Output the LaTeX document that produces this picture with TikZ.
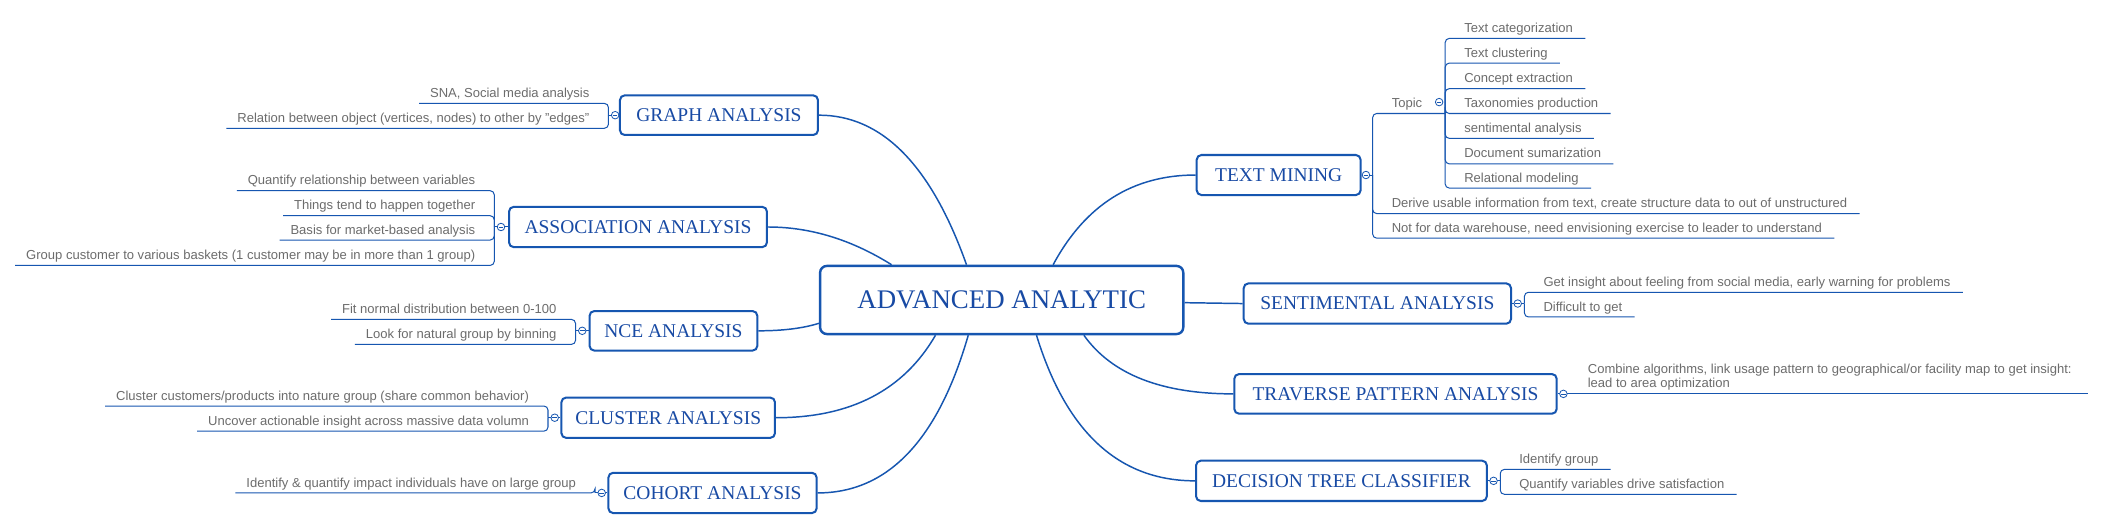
\documentclass[tikz,border=0pt]{standalone}
\usepackage{fontspec}
\setmainfont{Liberation Serif}
\setsansfont{Liberation Sans}
\usetikzlibrary{calc}
\definecolor{xblue}{RGB}{22,86,176}
\definecolor{tblue}{RGB}{24,74,164}
\definecolor{sgray}{RGB}{108,108,108}
\newcommand\mmLeft[5]{%
  \node[subtext, anchor=base east] (#1) at ({#2-14},{#4-4.4}) {#5};
  \draw[sline] ([shift={(-8,4.4)}]#1.base west) -- (#2,#4) -- (#2,#3);
}
\newcommand\mmRight[5]{%
  \node[subtext, anchor=base west] (#1) at ({#2+14},{#4-4.4}) {#5};
  \draw[sline] (#2,#3) -- (#2,#4) -- ([shift={(9,4.4)}]#1.base east);
}
\begin{document}
\begin{tikzpicture}[x=1pt,y=-1pt,
  topicbox/.style={draw=xblue, line width=1.5pt, rounded corners=3.5pt, fill=white,
    text=tblue, font=\fontsize{14.5}{16}\selectfont, inner sep=0pt},
  rootbox/.style={topicbox, line width=1.8pt, rounded corners=5pt, font=\fontsize{20}{22}\selectfont},
  subtext/.style={text=sgray, font=\sffamily\fontsize{9.7}{10.9}\selectfont, inner sep=0pt},
  link/.style={draw=xblue, line width=1.1pt},
  sline/.style={draw=xblue, line width=0.75pt, rounded corners=3pt},
  knob/.style={circle, draw=xblue, fill=white, line width=0.6pt, minimum size=5.6pt, inner sep=0pt,
    path picture={\draw[xblue, line width=0.5pt] ([xshift=-1.7pt]path picture bounding box.center) -- ([xshift=1.7pt]path picture bounding box.center);}}
]
\useasboundingbox[fill=white] (0,0) rectangle (1568,394.6);

% ---------- central and main topics ----------
\node[rootbox, minimum width=270.4pt, minimum height=50.7pt] (central) at (745.8,223.35) {ADVANCED ANALYTIC};

\node[topicbox, minimum width=147.4pt, minimum height=29.5pt] (graph)   at (535.3,85.75) {GRAPH ANALYSIS};
\node[topicbox, minimum width=192pt,   minimum height=30pt]   (assoc)   at (475,169)     {ASSOCIATION ANALYSIS};
\node[topicbox, minimum width=124.9pt, minimum height=29.4pt] (nce)     at (501.4,246.3) {NCE ANALYSIS};
\node[topicbox, minimum width=159pt,   minimum height=30pt]   (cluster) at (497.5,311)   {CLUSTER ANALYSIS};
\node[topicbox, minimum width=155pt,   minimum height=30pt]   (cohort)  at (530.5,367)   {COHORT ANALYSIS};

\node[topicbox, minimum width=122pt,   minimum height=29.8pt] (tmining)  at (952,130.3)   {TEXT MINING};
\node[topicbox, minimum width=199pt,   minimum height=30pt]   (sent)     at (1025.5,226)  {SENTIMENTAL ANALYSIS};
\node[topicbox, minimum width=240pt,   minimum height=29.5pt] (traverse) at (1039,293.25) {TRAVERSE PATTERN ANALYSIS};
\node[topicbox, minimum width=216.5pt, minimum height=30pt]   (decision) at (998.75,358)  {DECISION TREE CLASSIFIER};

% ---------- connectors from the central topic ----------
\coordinate (sG) at ([xshift=109.9pt]central.north west);
\coordinate (sT) at ([xshift=174.4pt]central.north west);
\coordinate (sA) at ([xshift=54.1pt]central.north west);
\coordinate (sK) at ([xshift=86.8pt]central.south west);
\coordinate (sH) at ([xshift=111.2pt]central.south west);
\coordinate (sD) at ([xshift=162pt]central.south west);
\coordinate (sP) at ([xshift=197.3pt]central.south west);
\coordinate (sN) at ([yshift=-17.35pt]central.west);
\coordinate (sS) at ([yshift=-2pt]central.east);

\coordinate (kG) at (680,85.75);
\coordinate (kT) at (820,130.3);
\coordinate (kA) at (619,169);
\coordinate (kN) at (592,246.3);
\coordinate (kK) at (661,311);
\coordinate (kH) at (687,367);
\coordinate (kD) at (805,358);
\coordinate (kP) at (838,293.25);

\draw[link] (sG) .. controls ($(sG)!0.667!(kG)$) and ($(graph.east)!0.667!(kG)$) .. (graph.east);
\draw[link] (sT) .. controls ($(sT)!0.667!(kT)$) and ($(tmining.west)!0.667!(kT)$) .. (tmining.west);
\draw[link] (sA) .. controls ($(sA)!0.667!(kA)$) and ($(assoc.east)!0.667!(kA)$) .. (assoc.east);
\draw[link] (sN) .. controls ($(sN)!0.667!(kN)$) and ($(nce.east)!0.667!(kN)$) .. (nce.east);
\draw[link] (sK) .. controls ($(sK)!0.667!(kK)$) and ($(cluster.east)!0.667!(kK)$) .. (cluster.east);
\draw[link] (sH) .. controls ($(sH)!0.667!(kH)$) and ($(cohort.east)!0.667!(kH)$) .. (cohort.east);
\draw[link] (sD) .. controls ($(sD)!0.667!(kD)$) and ($(decision.west)!0.667!(kD)$) .. (decision.west);
\draw[link] (sP) .. controls ($(sP)!0.667!(kP)$) and ($(traverse.west)!0.667!(kP)$) .. (traverse.west);
\draw[link] (sS) -- (sent.west);

% ---------- GRAPH ANALYSIS ----------
\mmLeft{g1}{453}{85.75}{77}{SNA, Social media analysis}
\mmLeft{g2}{453}{85.75}{95.5}{Relation between object (vertices, nodes) to other by "edges"}
\draw[sline] (453,85.75) -- (graph.west);

% ---------- ASSOCIATION ANALYSIS ----------
\mmLeft{a1}{368}{169}{142}{Quantify relationship between variables}
\mmLeft{a2}{368}{169}{160.6}{Things tend to happen together}
\mmLeft{a3}{368}{169}{178.7}{Basis for market-based analysis}
\mmLeft{a4}{368}{169}{197.6}{Group customer to various baskets (1 customer may be in more than 1 group)}
\draw[sline] (368,169) -- (assoc.west);

% ---------- NCE ANALYSIS ----------
\mmLeft{n1}{428.5}{246.3}{237.8}{Fit normal distribution between 0-100}
\mmLeft{n2}{428.5}{246.3}{256.4}{Look for natural group by binning}
\draw[sline] (428.5,246.3) -- (nce.west);

% ---------- CLUSTER ANALYSIS ----------
\mmLeft{k1}{408}{311}{302.3}{Cluster customers/products into nature group (share common behavior)}
\mmLeft{k2}{408}{311}{321}{Uncover actionable insight across massive data volumn}
\draw[sline] (408,311) -- (cluster.west);

% ---------- COHORT ANALYSIS ----------
\mmLeft{h1}{443}{367}{367}{Identify \& quantify impact individuals have on large group}
\draw[sline] (443,367) -- (cohort.west);

% ---------- TEXT MINING ----------
\node[subtext, anchor=base west] (tp) at (1036,80.1) {Topic};
\draw[sline] (1022,130.3) -- (1022,84.5) -- (1076,84.5);
\mmRight{t2}{1022}{130.3}{159}{Derive usable information from text, create structure data to out of unstructured}
\mmRight{t3}{1022}{130.3}{177.3}{Not for data warehouse, need envisioning exercise to leader to understand}
\draw[sline] (tmining.east) -- (1022,130.3);

\mmRight{p1}{1076}{84.5}{28.6}{Text categorization}
\mmRight{p2}{1076}{84.5}{47}{Text clustering}
\mmRight{p3}{1076}{84.5}{66}{Concept extraction}
\mmRight{p4}{1076}{84.5}{84.5}{Taxonomies production}
\mmRight{p5}{1076}{84.5}{103}{sentimental analysis}
\mmRight{p6}{1076}{84.5}{122}{Document sumarization}
\mmRight{p7}{1076}{84.5}{140}{Relational modeling}

% ---------- SENTIMENTAL ANALYSIS ----------
\mmRight{s1}{1135}{226}{217.6}{Get insight about feeling from social media, early warning for problems}
\mmRight{s2}{1135}{226}{236}{Difficult to get}
\draw[sline] (sent.east) -- (1135,226);

% ---------- TRAVERSE PATTERN ANALYSIS ----------
\node[subtext, anchor=base west] (r1) at (1182,288.8)
  {\begin{tabular}[b]{@{}l@{}}Combine algorithms, link usage pattern to geographical/or facility map to get insight:\\lead to area optimization\end{tabular}};
\draw[sline] (traverse.east) -- ($(traverse.east -| r1.east)+(12,0)$);

% ---------- DECISION TREE CLASSIFIER ----------
\mmRight{d1}{1117}{358}{349.5}{Identify group}
\mmRight{d2}{1117}{358}{368}{Quantify variables drive satisfaction}
\draw[sline] (decision.east) -- (1117,358);

% ---------- collapse knobs ----------
\node[knob] (kg) at (458,85.75) {};
\node[knob] (ka) at (373,169) {};
\node[knob] (kn) at (433.5,246.3) {};
\node[knob] (kk) at (413,311) {};
\node[knob] (kh) at (448,367) {};
\node[knob] (kt) at (1017,130.3) {};
\node[knob] (ktp) at (1071.5,76) {};
\node[knob] (ks) at (1130,226) {};
\node[knob] (kp) at (1164,293.25) {};
\node[knob] (kd) at (1112,358) {};
\end{tikzpicture}
\end{document}
